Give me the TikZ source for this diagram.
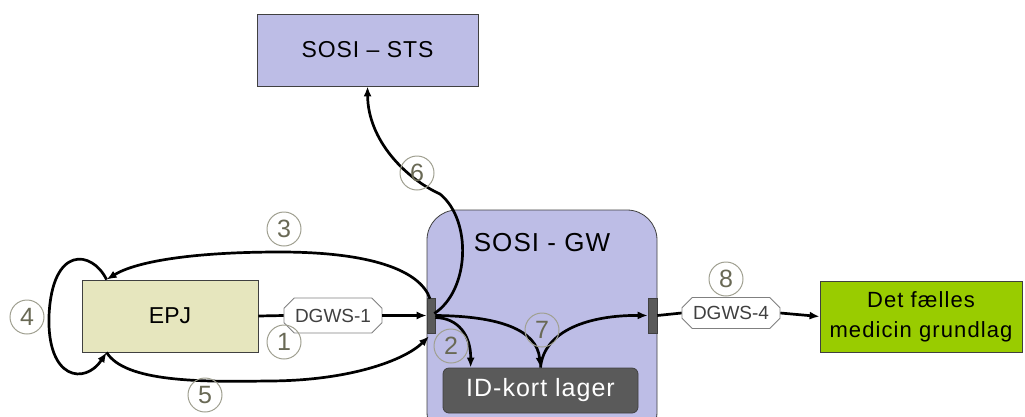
\documentclass[tikz,border=0pt]{standalone}
\usepackage{fontspec}
\setmainfont{Liberation Sans}
\usetikzlibrary{shapes.misc,arrows.meta,calc}
\definecolor{lav}{RGB}{189,189,230}
\definecolor{epjfill}{RGB}{230,230,190}
\definecolor{grn}{RGB}{153,204,0}
\definecolor{dgray}{RGB}{90,90,90}
\definecolor{bord}{RGB}{64,64,64}
\definecolor{numcirc}{RGB}{160,160,145}
\definecolor{numtext}{RGB}{105,105,85}
\newcommand\fsz[2]{\fontsize{#1}{#2}\selectfont}
\begin{document}
\begin{tikzpicture}[x=1pt,y=-1pt,
  plainbox/.style={draw=bord, line width=0.8pt, inner sep=0pt},
  portbox/.style={draw=bord, fill=dgray, line width=0.6pt, inner sep=0pt, minimum width=8pt, minimum height=35pt},
  tagbox/.style={chamfered rectangle, chamfered rectangle xsep=7pt, draw=gray, fill=white, line width=0.8pt, inner sep=0pt, minimum width=98pt, minimum height=35pt, text=bord, font=\fsz{19}{19}},
  num/.style={circle, draw=numcirc, line width=1pt, minimum size=34pt, inner sep=0pt, text=numtext, font=\fsz{25}{25}},
  conn/.style={line width=2.7pt},
  tip/.style={-{Latex[length=10pt,width=8pt]}}
]
\useasboundingbox (0,0) rectangle (1025,416);
\clip (0,0) rectangle (1025,416);

% containers and boxes
\node[plainbox, fill=lav, rounded corners=30pt, minimum width=230pt, minimum height=232pt] (gw) at (542,326) {};
\node[font=\fsz{26}{26}\addfontfeatures{LetterSpace=4}] (gwlabel) at (542,243) {SOSI - GW};
\node[plainbox, fill=lav, minimum width=221pt, minimum height=72pt, font=\fsz{23}{23}\addfontfeatures{LetterSpace=4}] (sts) at (367.5,50) {SOSI – STS};
\node[plainbox, fill=epjfill, minimum width=176pt, minimum height=72pt, font=\fsz{23}{23}] (epj) at (170,316) {EPJ};
\node[portbox] (pl) at (431,315.5) {};
\node[portbox, minimum width=9pt] (pr) at (652.5,315.5) {};
\node[plainbox, fill=dgray, draw=bord, rounded corners=6pt, minimum width=195pt, minimum height=45pt, text=white, font=\fsz{25}{25}\addfontfeatures{LetterSpace=4}] (id) at (540.5,390.5) {ID-kort lager};
\node[plainbox, fill=grn, minimum width=202pt, minimum height=71pt, align=center, font=\fsz{22}{30}\addfontfeatures{LetterSpace=5}] (dfm) at (921,316.5) {Det fælles\\medicin grundlag};
\node[tagbox] (d1) at (333,315.5) {DGWS-1};
\node[tagbox, minimum height=31pt] (d4) at (731,313) {DGWS-4};

% anchor points
\coordinate (epjTL) at ($(epj.north west)+(25,0)$);
\coordinate (epjBL) at ($(epj.south west)+(25,0)$);
\coordinate (plTop) at ($(pl.north)+(-1,1)$);
\coordinate (plLow) at ($(pl.south)+(-2,3)$);
\coordinate (plR) at ($(pl.east)+(0,2)$);
\coordinate (plR6) at ($(pl.east)+(-1,-2)$);
\coordinate (idA) at ($(id.north west)+(28,0)$);

% connectors
\draw[conn] (epj.east) -- (d1.west);
\draw[conn,tip] (d1.east) -- (pl.west);
\draw[conn] (pr.east) -- (d4.west);
\draw[conn,tip] (d4.east) -- (dfm.west);

\draw[conn,tip] (plTop) .. controls (420,270) and (370,252) .. (280,252)
  .. controls (190,252) and (135,262) .. (epjTL);
\draw[conn,tip] (epjTL) .. controls (92,250) and (52,245) .. (49,316)
  .. controls (47,380) and (85,385) .. (epjBL);
\draw[conn,tip] (epjBL) .. controls (125,382) and (200,382) .. (267,381)
  .. controls (350,381) and (405,360) .. (plLow);
\draw[conn,tip] (plR) .. controls (458,318) and (471,335) .. (idA);
\draw[conn,tip] (plR6) .. controls (470,290) and (472,220) .. (440,194)
  .. controls (405,178) and (368,140) .. (sts.south);
\draw[conn,tip] (pl.east) .. controls (500,316) and (537,330) .. (id.north);
\draw[conn,tip] (id.north) .. controls (544,330) and (590,315) .. (pr.west);

% step numbers
\node[num] (n1) at (284,342) {1};
\node[num] (n2) at (451,346) {2};
\node[num] (n3) at (284,229) {3};
\node[num] (n4) at (27,317) {4};
\node[num] (n5) at (205,395) {5};
\node[num] (n6) at (417,173) {6};
\node[num] (n7) at (542,330) {7};
\node[num] (n8) at (726,279) {8};
\end{tikzpicture}
\end{document}
